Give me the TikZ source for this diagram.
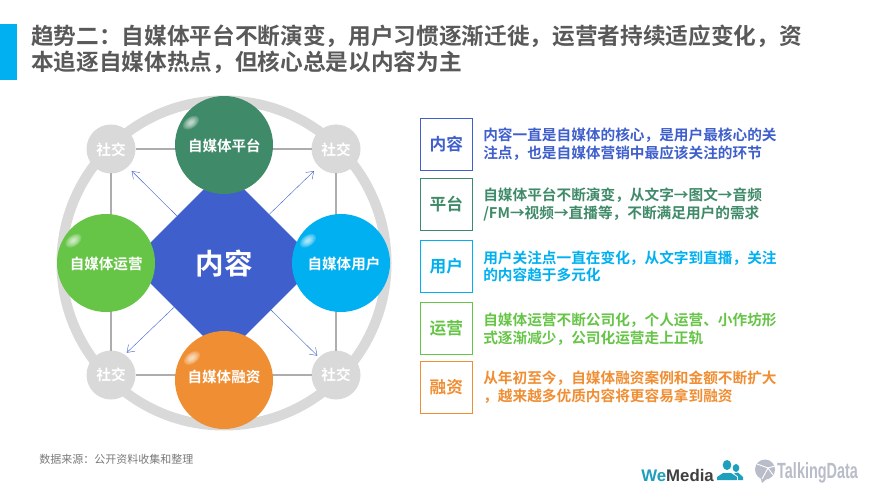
\documentclass[tikz,border=0pt]{standalone}
\usepackage{fontspec}
\setmainfont{Noto Sans CJK SC}[BoldFont={Noto Sans CJK SC Bold}]
\newfontfamily\latinbold{Liberation Sans}[BoldFont={Liberation Sans Bold}]
\usetikzlibrary{shapes.geometric,arrows.meta}
\definecolor{cblue}{HTML}{3F5FCC}
\definecolor{cgreen}{HTML}{3F8A68}
\definecolor{csky}{HTML}{00B0F0}
\definecolor{clime}{HTML}{66C547}
\definecolor{corange}{HTML}{F08E33}
\definecolor{cring}{HTML}{D9D9D9}
\definecolor{cline}{HTML}{ADADAD}
\definecolor{ctitle}{HTML}{595959}
\definecolor{ctalk}{HTML}{B9BDC9}
\definecolor{cteal}{HTML}{1E9FBB}
\newcommand{\glossspot}[2]{%
  \foreach \k in {1,0.85,0.7,0.55,0.4,0.25}{%
    \fill[white,opacity=0.17,rotate around={35:(#1,#2)}] (#1,#2) ellipse ({9*\k} and {5.5*\k});}}
\newcommand{\lbl}[3]{\hspace*{#1}\raisebox{#2}[\height][\depth]{#3}}
\tikzset{
  bigc/.style={circle,minimum size=73.5pt,inner sep=0pt,outer sep=0pt,fill=#1,text=white,font=\bfseries\fontsize{10.9pt}{13pt}\selectfont},
  smallc/.style={circle,minimum size=36.75pt,inner sep=0pt,outer sep=0pt,fill=cring,text=white,font=\bfseries\fontsize{11pt}{13pt}\selectfont},
  tag/.style={draw=#1,line width=0.8pt,minimum width=39.2pt,minimum height=39pt,inner sep=0pt,text=#1,font=\bfseries\fontsize{12.5pt}{15pt}\selectfont},
  desc/.style={anchor=west,align=left,inner sep=0pt,text=#1,font=\bfseries\fontsize{11pt}{13.3pt}\selectfont},
  spoke/.style={cblue,line width=0.3pt,-{Straight Barb[length=5pt,width=7pt]}},
  grid/.style={cline,line width=1.4pt}
}
\begin{document}
\begin{tikzpicture}[x=0.75pt,y=-0.75pt]
\useasboundingbox[fill=white] (0,0) rectangle (880,495);
% title
\fill[csky] (0,24) rectangle (17,80);
\node[anchor=west,align=left,inner sep=0pt,text=ctitle,font=\bfseries\fontsize{17pt}{19.5pt}\selectfont] (title) at (31,49.5)
 {趋势二：自媒体平台不断演变，用户习惯逐渐迁徙，运营者持续适应变化，资\\本追逐自媒体热点，但核心总是以内容为主};
% ring
\coordinate (ringc) at (224,263);
\draw[cring,line width=7.5pt] (ringc) circle (162.5);
% small circles
\node[smallc] (tl) at (111,149) {\lbl{0pt}{-0.3pt}{社交}};
\node[smallc] (tr) at (336,149) {\lbl{0pt}{-0.3pt}{社交}};
\node[smallc] (bl) at (111,375) {社交};
\node[smallc] (br) at (336,375) {社交};
\draw[grid] (tl) -- (tr);
\draw[grid] (bl) -- (br);
\draw[grid] (tl) -- (bl);
\draw[grid] (tr) -- (br);
% arrows
\coordinate (atl0) at (176.7,215.7); \coordinate (atl) at (131.7,171);
\coordinate (atr0) at (269.3,214.3); \coordinate (atr) at (314,171);
\coordinate (abl0) at (174,307.3);   \coordinate (abl) at (126.7,352.7);
\coordinate (abr0) at (271,310);     \coordinate (abr) at (317.3,355.7);
\draw[spoke] (atl0) -- (atl);
\draw[spoke] (atr0) -- (atr);
\draw[spoke] (abl0) -- (abl);
\draw[spoke] (abr0) -- (abr);
% diamond
\node[diamond,aspect=1,fill=cblue,minimum width=141pt,minimum height=141pt,inner sep=0pt,text=white,font=\bfseries\fontsize{21.4pt}{25pt}\selectfont] (core) at (224,263) {\lbl{0pt}{-0.6pt}{内容}};
% big circles
\node[bigc=cgreen]  (top)    at (224,145) {\lbl{0.6pt}{-0.6pt}{自媒体平台}};
\node[bigc=csky]    (right)  at (341,263) {\lbl{4.5pt}{-0.6pt}{自媒体用户}};
\node[bigc=clime]   (left)   at (106,263) {\lbl{0.3pt}{-0.6pt}{自媒体运营}};
\node[bigc=corange] (bottom) at (224,380) {\lbl{0pt}{1.9pt}{自媒体融资}};
\glossspot{191}{122.7}
\glossspot{308}{240.7}
\glossspot{73.5}{240.7}
\glossspot{192}{358}
% tags and descriptions
\node[tag=cblue]   (t1) at (446.3,144.5) {内容};
\node[tag=cgreen]  (t2) at (446.3,204.5) {平台};
\node[tag=csky]    (t3) at (446.3,266.5) {用户};
\node[tag=clime]   (t4) at (446.3,328.5) {运营};
\node[tag=corange] (t5) at (446.3,387.3) {融资};
\node[desc=cblue]   (d1) at (483,144.5) {内容一直是自媒体的核心，是用户最核心的关\\注点，也是自媒体营销中最应该关注的环节};
\node[desc=cgreen]  (d2) at (483,204.5) {自媒体平台不断演变，从文字→图文→音频\\/FM→视频→直播等，不断满足用户的需求};
\node[desc=csky]    (d3) at (483,266.5) {用户关注点一直在变化，从文字到直播，关注\\的内容趋于多元化};
\node[desc=clime]   (d4) at (483,329.5) {自媒体运营不断公司化，个人运营、小作坊形\\式逐渐减少，公司化运营走上正轨};
\node[desc=corange] (d5) at (483,387.5) {从年初至今，自媒体融资案例和金额不断扩大\\，越来越多优质内容将更容易拿到融资};
% source
\node[anchor=west,inner sep=0pt,text=ctitle!80,font=\fontsize{8.25pt}{10pt}\selectfont] (src) at (39,459) {数据来源：公开资料收集和整理};
% logos
\node[anchor=west,inner sep=0pt,font=\latinbold\bfseries\fontsize{12.6pt}{14pt}\selectfont] (wm) at (641,475) {\textcolor{cteal}{We}\textcolor{black!75}{Media}};
\fill[cteal] (727,465) ellipse (4.3 and 5);
\fill[cteal] (717,480) -- (717,477) -- (723,473) -- (731,473) -- (737,477) -- (737,480) -- cycle;
\fill[cteal] (736,468) ellipse (3.3 and 4);
\fill[cteal] (738,480) -- (738,476.5) -- (734,473.5) -- (738,472.5) -- (743,477) -- (743,480) -- cycle;
\fill[ctalk] (765,469.5) circle (10);
\fill[ctalk] (760,476) -- (762,483) -- (769,477) -- cycle;
\draw[white,line width=0.7pt] (757,464) -- (768,468) -- (775,466);
\draw[white,line width=0.7pt] (768,468) -- (762,479);
\draw[white,line width=0.7pt] (768,468) -- (773,475);
\node[anchor=west,inner sep=0pt,text=ctalk,xscale=0.69,yscale=1.05,font=\latinbold\bfseries\fontsize{15.7pt}{17pt}\selectfont] (td) at (777,472.5) {TalkingData};
\end{tikzpicture}
\end{document}
